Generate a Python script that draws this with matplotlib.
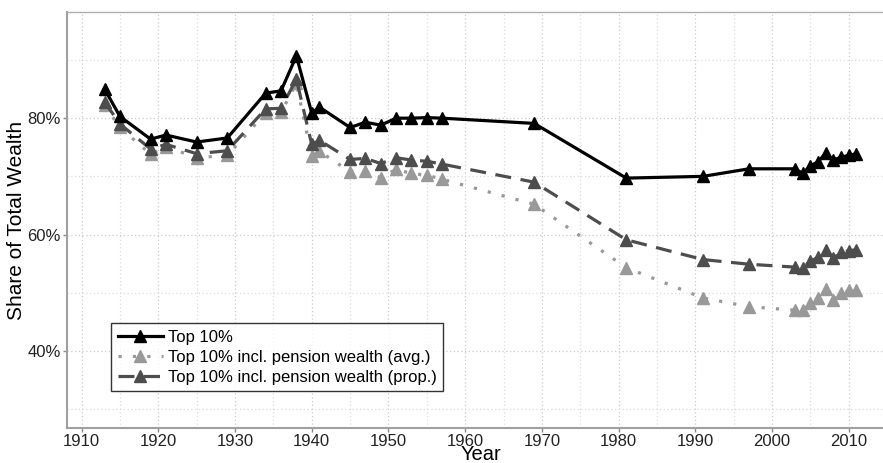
import matplotlib
matplotlib.use('Agg')
import matplotlib.pyplot as plt
from matplotlib.ticker import FuncFormatter, MultipleLocator

plt.rcParams['font.family'] = ['Liberation Sans', 'DejaVu Sans']

years = [1913, 1915, 1919, 1921, 1925, 1929, 1934, 1936, 1938, 1940, 1941,
         1945, 1947, 1949, 1951, 1953, 1955, 1957, 1969, 1981, 1991, 1997,
         2003, 2004, 2005, 2006, 2007, 2008, 2009, 2010, 2011]
top10 = [85.0, 80.3, 76.4, 77.1, 75.9, 76.6, 84.3, 84.7, 90.7, 80.9, 81.9,
         78.4, 79.3, 78.8, 80.0, 80.0, 80.1, 80.0, 79.1, 69.7, 70.0, 71.3,
         71.3, 70.5, 71.8, 72.5, 74.0, 72.8, 73.3, 73.6, 73.9]
top10_avg = [82.2, 78.4, 73.8, 75.1, 73.2, 73.6, 80.9, 81.0, 86.0, 73.5, 74.3,
             70.8, 70.9, 69.8, 71.2, 70.5, 70.2, 69.5, 65.2, 54.3, 49.1, 47.6,
             47.0, 47.0, 48.2, 49.1, 50.6, 48.8, 49.9, 50.4, 50.5]
top10_prop = [82.8, 79.0, 74.7, 75.5, 73.9, 74.4, 81.6, 81.7, 86.7, 75.5, 76.2,
              72.9, 73.1, 72.2, 73.2, 72.8, 72.6, 72.1, 69.0, 59.1, 55.7, 54.9,
              54.4, 54.3, 55.4, 56.1, 57.4, 55.9, 57.0, 57.2, 57.4]

fig = plt.figure(figsize=(8.83, 4.63), dpi=100)
ax = fig.add_axes([67 / 883, 1 - 428 / 463, (894 - 67) / 883, (428 - 12) / 463])

ax.plot(years, top10, color='black', lw=2.3, marker='^', ms=8,
        solid_joinstyle='round', label='Top 10%', zorder=4)
ax.plot(years, top10_avg, color='#999999', lw=2.3, marker='^', ms=8,
        dashes=(1, 3.5), dash_capstyle='butt',
        label='Top 10% incl. pension wealth (avg.)', zorder=2)
ax.plot(years, top10_prop, color='#4d4d4d', lw=2.3, marker='^', ms=8,
        dashes=(5, 3), label='Top 10% incl. pension wealth (prop.)', zorder=3)

ax.set_xlim(1908.1, 2015.9)
ax.set_ylim(26.75, 98.25)
ax.xaxis.set_major_locator(MultipleLocator(10))
ax.xaxis.set_minor_locator(MultipleLocator(5))
ax.yaxis.set_major_locator(MultipleLocator(20))
ax.yaxis.set_minor_locator(MultipleLocator(10))
ax.yaxis.set_major_formatter(FuncFormatter(lambda v, p: f'{v:.0f}%'))

ax.grid(True, which='major', color='#cccccc', ls=(0, (1, 2)), lw=0.9)
ax.grid(True, which='minor', color='#dddddd', ls=(0, (1, 2)), lw=0.9)
ax.set_axisbelow(True)

for s in ['left', 'bottom']:
    ax.spines[s].set_color('#a0a0a0')
    ax.spines[s].set_linewidth(1.5)
ax.spines['top'].set_color('#b0b0b0')
ax.spines['top'].set_linewidth(1.0)
ax.spines['right'].set_visible(False)

ax.tick_params(which='major', length=3, width=1, color='#888888',
               labelsize=12, labelcolor='#222222', pad=1.5)
ax.tick_params(which='minor', length=0)

ax.set_xlabel('Year', fontsize=14.5)
ax.set_ylabel('Share of Total Wealth', fontsize=15)
ax.xaxis.label.set_va('baseline')
ax.xaxis.set_label_coords((481 - 67) / (894 - 67), -(459.5 - 428) / 416)
ax.yaxis.set_label_coords((17 - 67) / (894 - 67), 0.5)
ax.yaxis.label.set_va('center')

leg = ax.legend(loc='upper left', bbox_to_anchor=(111 / 883, 1 - 323 / 463),
                bbox_transform=fig.transFigure, fontsize=12, frameon=True,
                fancybox=False, edgecolor='black', handlelength=2.7,
                handletextpad=0.3, borderpad=0.4, labelspacing=0.3,
                borderaxespad=0)
leg.get_frame().set_linewidth(1.0)

fig.savefig('out.png', dpi=100)
